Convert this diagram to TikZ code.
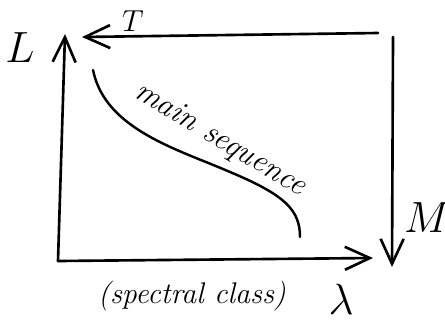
\documentclass[tikz,border=0pt]{standalone}
\usepackage{amsmath}
\usepackage{tikz}
\usetikzlibrary{
  arrows.meta
}
\tikzset{
  hr axis/.style={
    line width=1.5pt,
    line cap=round,
    -{Straight Barb[length=5mm,width=4.6mm,line width=1.5pt]}
  },
  hr track/.style={
    line width=1.4pt,
    line cap=round
  },
  hr label/.style={
    font=\fontsize{#1}{#1}\selectfont\itshape,
    inner sep=0pt
  }
}

\begin{document}
\begin{tikzpicture}[x=0.02cm,y=-0.02cm]
    \useasboundingbox (0,0) rectangle (445,322);

    % 枠の角
    \coordinate (O)    at (58,261);
    \coordinate (Ltip) at (65,34);
    \coordinate (Tst)  at (378,33);
    \coordinate (Ttip) at (82,37);
    \coordinate (Rtop) at (393,37);
    \coordinate (Mtip) at (392,267);
    \coordinate (Btip) at (373,258);

    % 座標軸
    \draw[hr axis] (O) -- (Ltip);
    \draw[hr axis] (Tst) -- (Ttip);
    \draw[hr axis] (Rtop) -- (Mtip);
    \draw[hr axis] (O) -- (Btip);

    % 軸ラベル
    \node[hr label=29] (L) at (20,48) {$L$};
    \node[hr label=19] (T) at (133,21) {$T$};
    \node[hr label=29] (M) at (427,218) {$M$};
    \node[hr label=26] (lam) at (341,299) {$\lambda$};
    \node[hr label=17] (spec) at (192,296) {(spectral class)};

    % 主系列
    \draw[hr track]
      (93,70)
      .. controls (105,130) and (180,150) ..
      (230,172)
      .. controls (285,195) and (300,210) ..
      (300,237);
    \node[hr label=18, rotate=-31] (ms) at (220,140) {main sequence};

\end{tikzpicture}
\end{document}
